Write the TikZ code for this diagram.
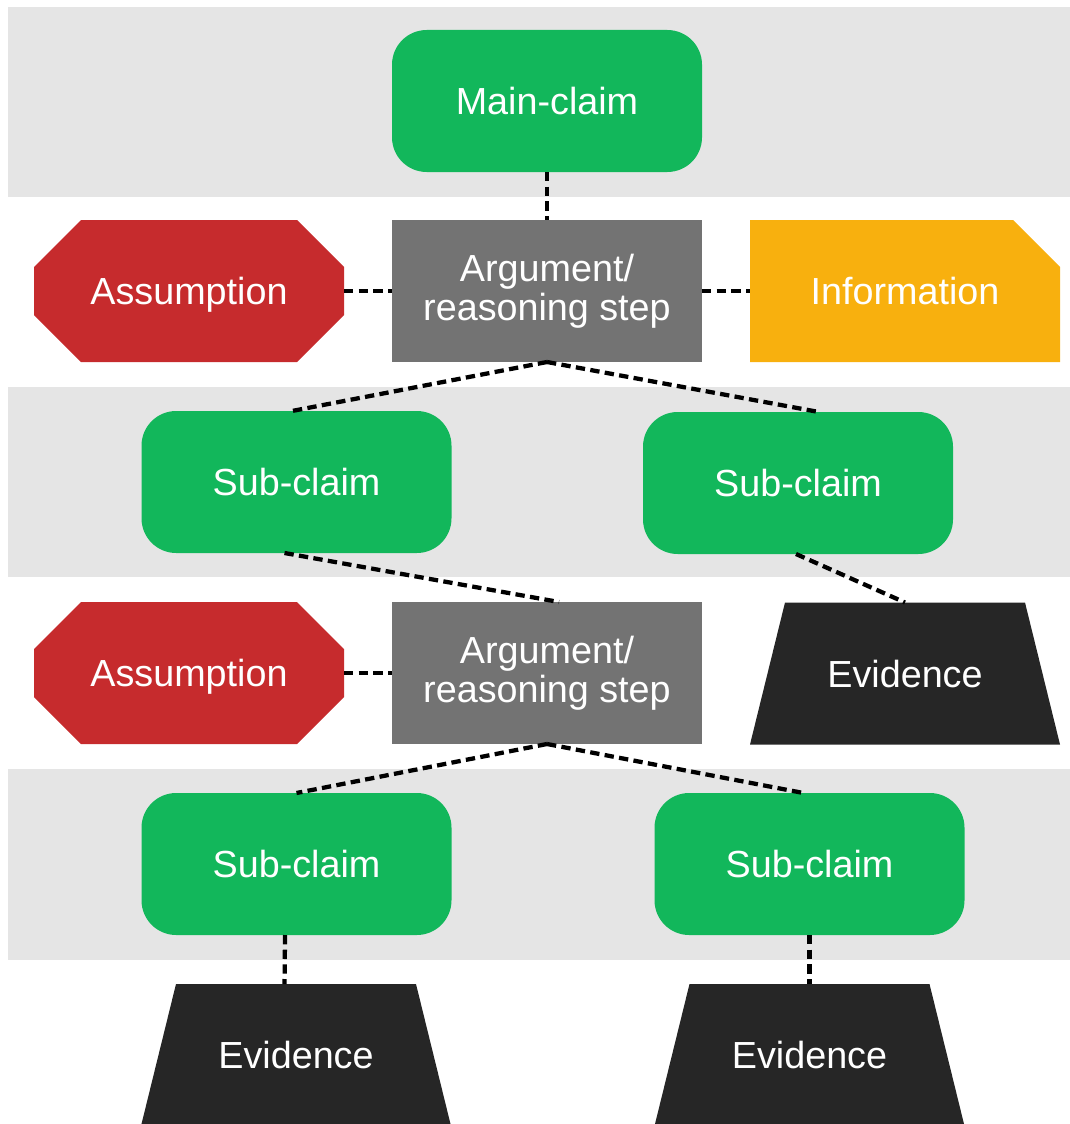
\documentclass[tikz,border=0pt]{standalone}
\usepackage{fontspec}
\setmainfont{Liberation Sans}

\definecolor{bandgray}{HTML}{E5E5E5}
\definecolor{claimgreen}{HTML}{12B75B}
\definecolor{assumred}{HTML}{C62B2D}
\definecolor{stepgray}{HTML}{737373}
\definecolor{infoyellow}{HTML}{F8B00E}
\definecolor{evidark}{HTML}{262626}

\pgfdeclarelayer{back}
\pgfdeclarelayer{shapes}
\pgfsetlayers{back,shapes,main}

% chamfer size and trapezium slant
\newcommand\chm{35.25pt}
\newcommand\slant{26.25pt}
% octagon behind a node
\newcommand\octfill[1]{%
  \fill[assumred] ([xshift=\chm]#1.north west) -- ([xshift=-\chm]#1.north east)
    -- ([yshift=-\chm]#1.north east) -- ([yshift=\chm]#1.south east)
    -- ([xshift=-\chm]#1.south east) -- ([xshift=\chm]#1.south west)
    -- ([yshift=\chm]#1.south west) -- ([yshift=-\chm]#1.north west) -- cycle;}
% trapezium behind a node
\newcommand\trapfill[1]{%
  \fill[evidark] ([xshift=\slant]#1.north west) -- ([xshift=-\slant]#1.north east)
    -- (#1.south east) -- (#1.south west) -- cycle;}
% box with a cut top-right corner behind a node
\newcommand\notefill[1]{%
  \fill[infoyellow] (#1.north west) -- ([xshift=-\chm]#1.north east)
    -- ([yshift=-\chm]#1.north east) -- (#1.south east) -- (#1.south west) -- cycle;}

\begin{document}
\begin{tikzpicture}[x=0.75pt,y=-0.75pt,
  box/.style={inner sep=0pt,outer sep=0pt,text=white,
    font=\fontsize{28.3}{29.5}\selectfont,align=center,
    minimum width=232.5pt,minimum height=106.5pt},
  oneline/.style={box,text depth=0pt},
  claim/.style={oneline,fill=claimgreen,rounded corners=26pt},
  stepbox/.style={box,fill=stepgray},
  link/.style={line width=3.2pt,dash pattern=on 7pt off 4pt,black}]

\useasboundingbox (0,0) rectangle (1070,1124);

% background bands for the claim levels
\begin{pgfonlayer}{back}
\fill[bandgray] (8,7) rectangle (1070,197);
\fill[bandgray] (8,387) rectangle (1070,577);
\fill[bandgray] (8,769) rectangle (1070,960);
\end{pgfonlayer}

% nodes
\node[claim] (main) at (547,101) {Main-claim};
\node[stepbox] (arg1) at (547,291) {Argument/\\reasoning step};
\node[oneline] (as1) at (189,291) {Assumption};
\node[oneline] (info) at (905,291) {Information};
\node[claim] (sl1) at (296.5,482) {Sub-claim};
\node[claim] (sr1) at (798,483) {Sub-claim};
\node[oneline] (as2) at (189,673) {Assumption};
\node[stepbox] (arg2) at (547,673) {Argument/\\reasoning step};
\node[oneline] (ev1) at (905,673.5) {Evidence};
\node[claim] (sl2) at (296.5,864) {Sub-claim};
\node[claim] (sr2) at (809.5,864) {Sub-claim};
\node[oneline] (ev2) at (296,1055) {Evidence};
\node[oneline] (ev3) at (809.5,1055) {Evidence};

% shaped fills under the text nodes
\begin{pgfonlayer}{shapes}
\octfill{as1}
\octfill{as2}
\notefill{info}
\trapfill{ev1}
\trapfill{ev2}
\trapfill{ev3}
\end{pgfonlayer}

% connectors
\draw[link] (main.south) -- (arg1.north);
\draw[link] (as1.east) -- (arg1.west);
\draw[link] (arg1.east) -- (info.west);
\draw[link] (arg1.south) -- ([xshift=-3.4pt]sl1.north);
\draw[link] (arg1.south) -- ([xshift=15.7pt]sr1.north);
\draw[link] ([xshift=-9pt]sl1.south) -- ([xshift=9pt]arg2.north);
\draw[link] ([xshift=-1.5pt]sr1.south) -- (ev1.north);
\draw[link] (as2.east) -- (arg2.west);
\draw[link] (arg2.south) -- (sl2.north);
\draw[link] (arg2.south) -- ([xshift=-4.5pt]sr2.north);
\draw[link] ([xshift=-8.6pt]sl2.south) -- ([xshift=-8.6pt]ev2.north);
\draw[link] (sr2.south) -- (ev3.north);
\end{tikzpicture}
\end{document}
